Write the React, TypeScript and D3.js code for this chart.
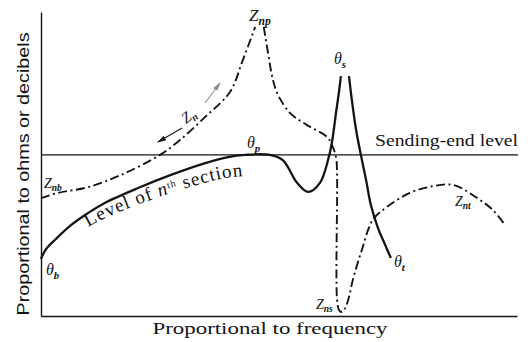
import React, { useEffect, useRef } from "react";
import * as d3 from "d3";

const WIDTH = 528;
const HEIGHT = 342;

// x: frequency (0..100), y: ohms / decibels (0..100)
const sendingLevel = 53;

// level of the nth section, θb up to the θs peak
const levelRise: [number, number][] = [
  [0, 18.8], [1.05, 22.0], [2.9, 25.0], [6.3, 29.9], [9.9, 33.9], [13.4, 37.2],
  [20.4, 42.1], [27.3, 46.4], [34.5, 50.3], [39.3, 52.3], [42.9, 53.0], [48.1, 53.0],
  [50.8, 51.3], [53.8, 43.8], [56.1, 40.8], [58.6, 43.8], [60.3, 51.3], [61.1, 56.9],
  [62.0, 67.1], [62.6, 73.7], [63.0, 78.9],
];

// θs peak down to θt
const levelFall: [number, number][] = [
  [64.7, 78.9], [65.3, 71.1], [66.2, 61.2], [67.2, 53.0], [68.3, 44.7],
  [69.3, 36.5], [70.8, 28.9], [72.3, 23.4], [73.5, 19.1],
];

// Zn from Znb up to Znp
const znRise: [number, number][] = [
  [0, 38.8], [3.6, 40.5], [9.9, 42.4], [16.8, 46.4], [25.0, 53.0], [29.2, 57.9],
  [34.5, 65.5], [39.7, 73.7], [42.4, 84.2], [45.0, 95.1],
];

// Zn from Znp down through Zns to Znt
const znFall: [number, number][] = [
  [46.8, 95.1], [47.7, 86.5], [48.5, 79.3], [49.6, 73.4], [52.3, 66.8], [55.9, 62.8],
  [60.1, 58.9], [61.3, 55.6], [62.0, 52.0], [62.2, 46.4], [62.2, 5.3], [62.6, 2.0],
  [63.2, 1.3], [63.9, 2.6], [64.7, 6.2], [65.5, 11.8], [67.4, 21.7], [69.7, 31.6],
  [72.7, 35.9], [77.5, 40.5], [82.0, 42.6], [86.6, 43.1], [92.2, 38.2], [94.9, 34.9],
  [97.5, 29.9],
];

const xTitle = "Proportional to frequency";
const yTitle = "Proportional to ohms or decibels";
const levelTitle = "Sending-end level";

const INK = "#141414";
const SERIF = "'Liberation Serif', 'DejaVu Serif', serif";
const SANS = "'Liberation Sans', 'DejaVu Sans', sans-serif";

const App = () => {
  const ref = useRef<SVGSVGElement>(null);

  useEffect(() => {
    const svg = d3.select(ref.current);
    svg.selectAll("*").remove();

    const x = d3.scaleLinear().domain([0, 100]).range([41, 517]);
    const y = d3.scaleLinear().domain([0, 100]).range([316, 12]);

    svg.append("rect").attr("width", WIDTH).attr("height", HEIGHT).attr("fill", "#fff");

    const defs = svg.append("defs");
    ["black", "grey"].forEach((k) => {
      defs.append("marker")
        .attr("id", "arrow-" + k)
        .attr("markerUnits", "userSpaceOnUse")
        .attr("markerWidth", 9)
        .attr("markerHeight", 6)
        .attr("refX", 8)
        .attr("refY", 3)
        .attr("orient", "auto")
        .append("path")
        .attr("d", "M0,0.5 L9,3 L0,5.5 Z")
        .attr("fill", k === "black" ? INK : "#8a8a8a");
    });

    // axes: bare lines, no ticks
    svg.append("g")
      .attr("transform", `translate(${x(0)},0)`)
      .call(d3.axisLeft(y).tickValues([]).tickSizeOuter(0))
      .select(".domain").attr("stroke", INK).attr("stroke-width", 1.4);
    svg.append("g")
      .attr("transform", `translate(0,${y(0)})`)
      .call(d3.axisBottom(x).tickValues([]).tickSizeOuter(0))
      .select(".domain").attr("stroke", INK).attr("stroke-width", 1.4);

    svg.append("line")
      .attr("x1", x(0)).attr("x2", x(100) + 1)
      .attr("y1", y(sendingLevel)).attr("y2", y(sendingLevel))
      .attr("stroke", INK).attr("stroke-width", 1.3);

    const line = d3.line<[number, number]>()
      .x((d) => x(d[0]))
      .y((d) => y(d[1]))
      .curve(d3.curveCatmullRom.alpha(0.5));

    [levelRise, levelFall].forEach((pts) => {
      svg.append("path").attr("d", line(pts))
        .attr("fill", "none").attr("stroke", INK).attr("stroke-width", 2.3);
    });
    [znRise, znFall].forEach((pts) => {
      svg.append("path").attr("d", line(pts))
        .attr("fill", "none").attr("stroke", INK).attr("stroke-width", 1.9)
        .attr("stroke-dasharray", "9,3.5,2,3.5");
    });

    // titles
    svg.append("text")
      .attr("transform", `translate(29,${(y(0) + y(100)) / 2 + 10}) rotate(-90)`)
      .attr("text-anchor", "middle")
      .attr("font-family", SANS).attr("font-size", 17)
      .attr("textLength", 283).attr("lengthAdjust", "spacingAndGlyphs")
      .attr("fill", INK)
      .text(yTitle);
    svg.append("text")
      .attr("x", 270).attr("y", 334)
      .attr("text-anchor", "middle")
      .attr("font-family", SERIF).attr("font-size", 17)
      .attr("textLength", 235).attr("lengthAdjust", "spacingAndGlyphs")
      .attr("fill", INK)
      .text(xTitle);
    svg.append("text")
      .attr("x", 375).attr("y", 146)
      .attr("font-family", SERIF).attr("font-size", 16)
      .attr("textLength", 143).attr("lengthAdjust", "spacingAndGlyphs")
      .attr("fill", INK)
      .text(levelTitle);

    // "Level of nth section" follows the curve just below it, drifting a little lower to the right
    const along = levelRise.filter((d) => d[0] >= 9 && d[0] <= 45);
    svg.append("path")
      .attr("id", "level-label-path")
      .attr("d", d3.line<[number, number]>()
        .x((d) => x(d[0]))
        .y((d) => y(d[1]) + 14 + (x(d[0]) - x(9.9)) * 0.045)
        .curve(d3.curveBasis)(along))
      .attr("fill", "none");
    const tp = svg.append("text")
      .attr("font-family", SERIF).attr("font-size", 19).attr("letter-spacing", 1)
      .attr("fill", INK)
      .append("textPath").attr("href", "#level-label-path").attr("startOffset", 0);
    tp.append("tspan").text("Level of ");
    tp.append("tspan").attr("font-style", "italic").text("n");
    tp.append("tspan").attr("font-size", 10).attr("baseline-shift", "super").text("th");
    tp.append("tspan").text(" section");

    // symbol labels: main italic letter with a subscript
    const symbol = (px: number, py: number, main: string, sub: string, size = 15, rot = 0) => {
      const t = svg.append("text")
        .attr("transform", `translate(${px},${py}) rotate(${rot})`)
        .attr("font-family", SERIF).attr("font-style", "italic")
        .attr("font-size", size).attr("fill", INK);
      t.append("tspan").text(main);
      t.append("tspan").attr("font-size", size * 0.68).attr("font-weight", "bold")
        .attr("dy", size * 0.22).text(sub);
    };
    symbol(44, 188, "Z", "nb", 14);
    symbol(46, 275, "θ", "b", 16);
    symbol(247, 148, "θ", "p", 16);
    symbol(249, 21, "Z", "np", 17);
    symbol(334, 64, "θ", "s", 16);
    symbol(316, 309, "Z", "ns", 14);
    symbol(394, 267, "θ", "t", 16);
    symbol(455, 206, "Z", "nt", 14);
    symbol(186, 124, "Z", "n", 15, -38);

    svg.append("line")
      .attr("x1", 182).attr("y1", 128).attr("x2", 158).attr("y2", 142)
      .attr("stroke", INK).attr("stroke-width", 1.1)
      .attr("marker-end", "url(#arrow-black)");
    svg.append("line")
      .attr("x1", 205).attr("y1", 103).attr("x2", 220).attr("y2", 83)
      .attr("stroke", "#8a8a8a").attr("stroke-width", 1.1)
      .attr("marker-end", "url(#arrow-grey)");
  }, []);

  return (
    <svg
      ref={ref}
      width={WIDTH}
      height={HEIGHT}
      style={{ position: "absolute", left: 0, top: 0, display: "block" }}
    />
  );
};

export default App;
